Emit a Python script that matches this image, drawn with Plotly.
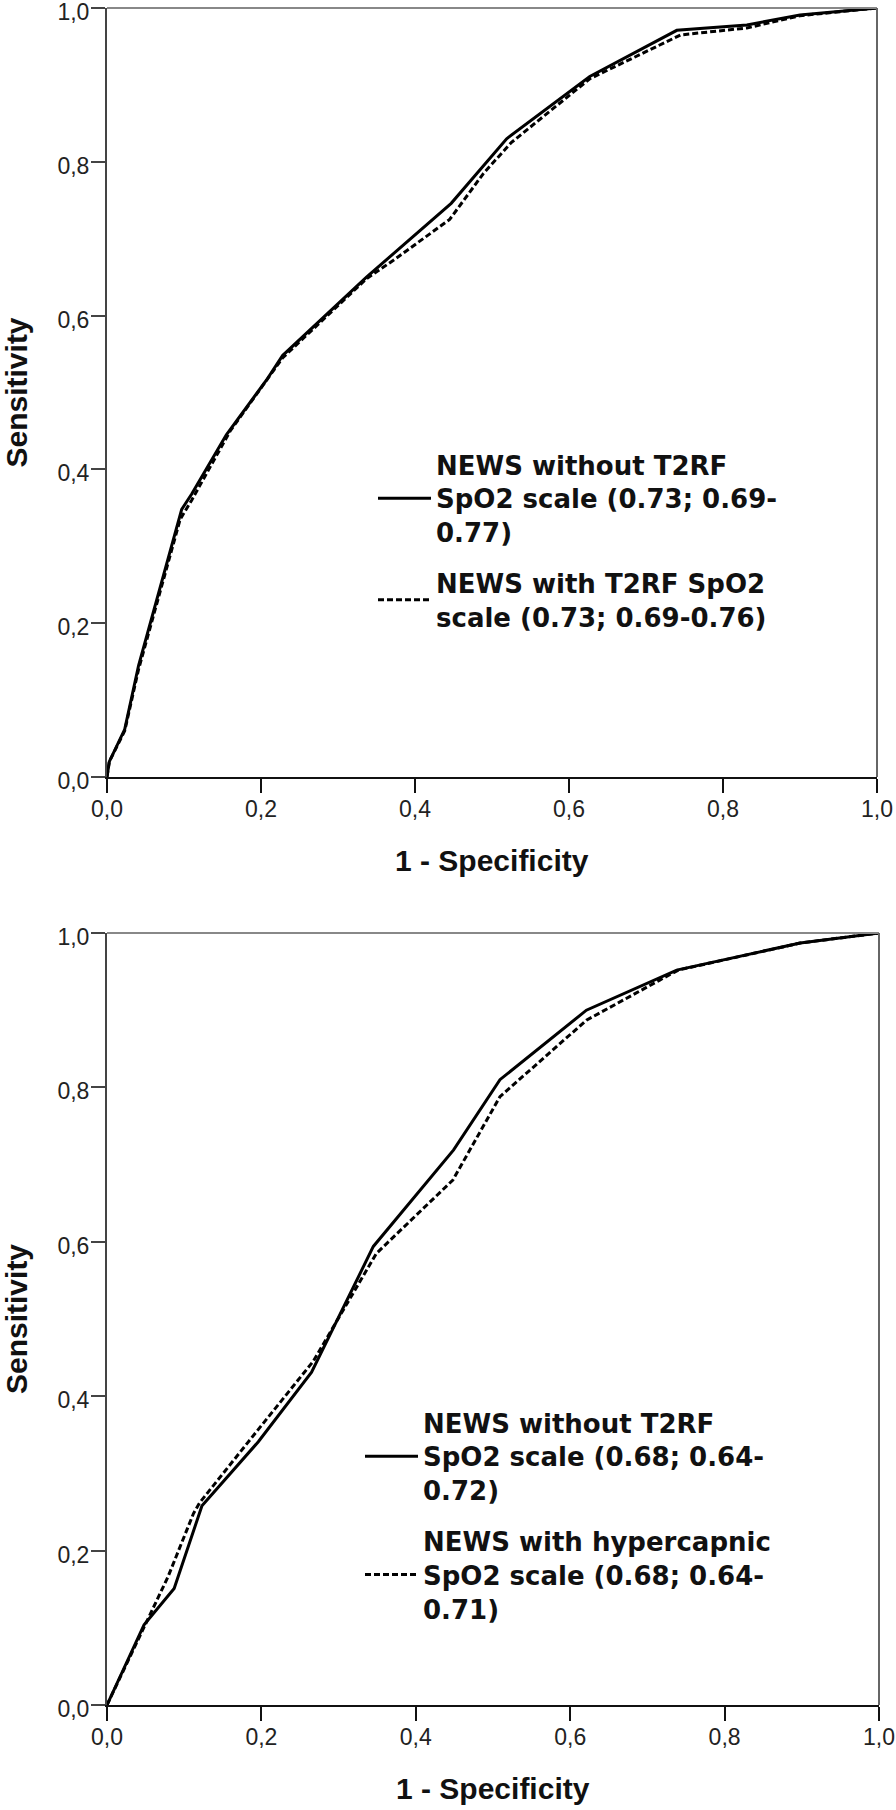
import plotly.graph_objects as go

# ROC curves (1 - specificity, sensitivity)
top_solid_x = [0, 0.003, 0.023, 0.041, 0.097, 0.11, 0.155, 0.207, 0.228, 0.337, 0.447, 0.519, 0.627, 0.740, 0.831, 0.900, 1.0]
top_solid_y = [0, 0.020, 0.062, 0.145, 0.348, 0.368, 0.445, 0.516, 0.548, 0.650, 0.746, 0.830, 0.911, 0.971, 0.978, 0.991, 1.0]

top_dash_x = [0, 0.003, 0.023, 0.041, 0.095, 0.11, 0.16, 0.207, 0.228, 0.337, 0.372, 0.445, 0.489, 0.525, 0.627, 0.745, 0.831, 0.900, 1.0]
top_dash_y = [0, 0.020, 0.060, 0.140, 0.335, 0.360, 0.450, 0.515, 0.545, 0.648, 0.672, 0.725, 0.785, 0.825, 0.908, 0.965, 0.974, 0.990, 1.0]

bot_solid_x = [0, 0.048, 0.087, 0.123, 0.196, 0.265, 0.345, 0.449, 0.509, 0.621, 0.738, 0.898, 1.0]
bot_solid_y = [0, 0.104, 0.151, 0.258, 0.341, 0.431, 0.594, 0.719, 0.810, 0.900, 0.952, 0.987, 1.0]

bot_dash_x = [0, 0.048, 0.079, 0.112, 0.12, 0.192, 0.267, 0.349, 0.448, 0.509, 0.621, 0.716, 0.740, 0.898, 1.0]
bot_dash_y = [0, 0.102, 0.166, 0.248, 0.262, 0.352, 0.445, 0.585, 0.680, 0.788, 0.887, 0.939, 0.952, 0.987, 1.0]

top_names = [
    "<b>NEWS without T2RF<br>SpO2 scale (0.73; 0.69-<br>0.77)</b>",
    "<b>NEWS with T2RF SpO2<br>scale (0.73; 0.69-0.76)</b>",
]
bot_names = [
    "<b>NEWS without T2RF<br>SpO2 scale (0.68; 0.64-<br>0.72)</b>",
    "<b>NEWS with hypercapnic<br>SpO2 scale (0.68; 0.64-<br>0.71)</b>",
]

tick_vals = [0, 0.2, 0.4, 0.6, 0.8, 1.0]
tick_text = ["0,0", "0,2", "0,4", "0,6", "0,8", "1,0"]

W, H = 896, 1810
FONT = "Liberation Sans"
LEG_FONT = "DejaVu Sans"

fig = go.Figure()

solid = dict(color="black", width=3)
dashed = dict(color="black", width=3, dash="6px,3px")

fig.add_trace(go.Scatter(x=top_solid_x, y=top_solid_y, mode="lines", line=solid, cliponaxis=False,
                         name=top_names[0], xaxis="x", yaxis="y", legend="legend", legendgroup="a"))
fig.add_trace(go.Scatter(x=top_dash_x, y=top_dash_y, mode="lines", line=dashed, cliponaxis=False,
                         name=top_names[1], xaxis="x", yaxis="y", legend="legend", legendgroup="b"))
fig.add_trace(go.Scatter(x=bot_solid_x, y=bot_solid_y, mode="lines", line=solid, cliponaxis=False,
                         name=bot_names[0], xaxis="x2", yaxis="y2", legend="legend2", legendgroup="c"))
fig.add_trace(go.Scatter(x=bot_dash_x, y=bot_dash_y, mode="lines", line=dashed, cliponaxis=False,
                         name=bot_names[1], xaxis="x2", yaxis="y2", legend="legend2", legendgroup="d"))

# plot areas in pixels: (left, right, top, bottom)
top_box = (107, 877, 8, 777)
bot_box = (107, 879, 933, 1705)


def dom(box):
    l, r, t, b = box
    return [l / W, r / W], [1 - b / H, 1 - t / H]


def xaxis_style(dx, anchor):
    return dict(domain=dx, anchor=anchor, range=[0, 1], tickvals=tick_vals, ticktext=tick_text,
                showline=True, linecolor="#111", linewidth=2, ticks="outside", ticklen=14,
                tickwidth=2, tickcolor="#111", showgrid=False, zeroline=False, automargin=False,
                ticklabeloverflow="allow", ticklabelstandoff=-4,
                tickfont=dict(family=FONT, size=23, color="#222"))


def yaxis_style(dy, anchor):
    return dict(domain=dy, anchor=anchor, range=[0, 1], tickvals=tick_vals, ticktext=tick_text,
                showline=True, linecolor="#444", linewidth=2, ticks="outside", ticklen=14,
                tickwidth=2, tickcolor="#444", showgrid=False, zeroline=False, automargin=False,
                ticklabeloverflow="allow", ticklabelstandoff=-3, ticklabelshift=4,
                tickfont=dict(family=FONT, size=23, color="#222"))


tdx, tdy = dom(top_box)
bdx, bdy = dom(bot_box)

legend_common = dict(font=dict(family=LEG_FONT, size=26, color="#111"), bgcolor="rgba(0,0,0,0)",
                     borderwidth=0, itemwidth=53, xanchor="left", yanchor="top",
                     tracegroupgap=14, valign="middle", itemclick=False)

fig.update_layout(
    width=W, height=H,
    margin=dict(l=0, r=0, t=0, b=0, autoexpand=False),
    paper_bgcolor="white", plot_bgcolor="white",
    xaxis=xaxis_style(tdx, "y"),
    yaxis=yaxis_style(tdy, "x"),
    xaxis2=xaxis_style(bdx, "y2"),
    yaxis2=yaxis_style(bdy, "x2"),
    legend=dict(x=373 / W, y=1 - 441 / H, **legend_common),
    legend2=dict(x=360 / W, y=1 - 1399 / H, **legend_common),
)

# grey top and right frame edges
for xr, yr in (("x domain", "y domain"), ("x2 domain", "y2 domain")):
    fig.add_shape(type="line", xref=xr, yref=yr, x0=0, x1=1, y0=1, y1=1,
                  line=dict(color="#888", width=2))
    fig.add_shape(type="line", xref=xr, yref=yr, x0=1, x1=1, y0=0, y1=1,
                  line=dict(color="#666", width=2))

title_font = dict(family=FONT, size=30, color="#111")
for box in (top_box, bot_box):
    l, r, t, b = box
    fig.add_annotation(text="<b>Sensitivity</b>", textangle=-90, xref="paper", yref="paper",
                       x=16 / W, y=1 - (t + b) / 2 / H, showarrow=False, font=title_font,
                       xanchor="center", yanchor="middle")
    fig.add_annotation(text="<b>1 - Specificity</b>", xref="paper", yref="paper",
                       x=(l + r) / 2 / W, y=1 - (b + 83) / H, showarrow=False, font=title_font,
                       xanchor="center", yanchor="middle")

# page body has a default 8px margin; drop it so the figure sits at the window origin
fig.write_html("out.html", config={"displayModeBar": False},
               post_script="document.body.style.margin='0px';")
